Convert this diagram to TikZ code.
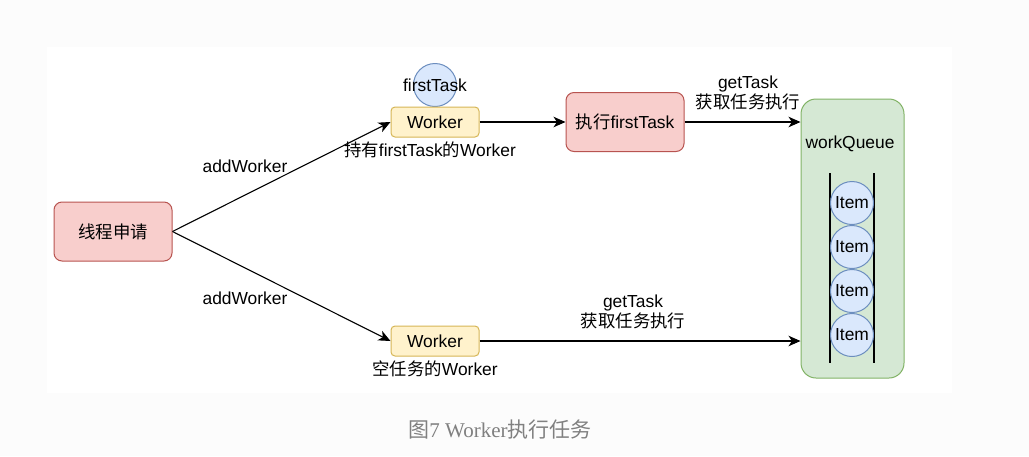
\documentclass[tikz,border=0pt]{standalone}
\usepackage{fontspec}
\setmainfont{Liberation Sans}
\newfontfamily\cjk{Noto Sans CJK SC}
\newfontfamily\capserif{Liberation Serif}
\usetikzlibrary{arrows.meta}
\definecolor{redfill}{HTML}{F8CECC}
\definecolor{redline}{HTML}{B85450}
\definecolor{yelfill}{HTML}{FFF2CC}
\definecolor{yelline}{HTML}{D6B656}
\definecolor{bluefill}{HTML}{DAE8FC}
\definecolor{blueline}{HTML}{6C8EBF}
\definecolor{grnfill}{HTML}{D5E8D4}
\definecolor{grnline}{HTML}{82B366}
\definecolor{outerbg}{HTML}{FCFCFC}
\definecolor{capgray}{HTML}{808080}
\tikzset{
  txt/.style={font=\fontsize{17.4}{20}\selectfont, inner sep=0pt, align=center},
  redbox/.style={txt, draw=redline, fill=redfill, line width=1pt, rounded corners=8pt, minimum width=118pt, minimum height=59pt},
  workerbox/.style={txt, draw=yelline, fill=yelfill, line width=1pt, rounded corners=4pt, minimum width=88pt, minimum height=30pt},
  bluecirc/.style={txt, circle, draw=blueline, fill=bluefill, line width=1pt, minimum size=43pt},
  queuebox/.style={draw=grnline, fill=grnfill, line width=1pt, rounded corners=15pt, minimum width=103pt, minimum height=279pt, inner sep=0pt},
  flow/.style={draw=black, line width=1.1pt, -{Stealth[length=12pt,width=10.5pt,inset=3.5pt]}},
  rail/.style={draw=black, line width=1.1pt}
}
\begin{document}
\begin{tikzpicture}[x=1pt,y=-1pt]
\useasboundingbox (0,0) rectangle (1029,456);
\fill[outerbg] (0,0) rectangle (1029,456);
\fill[white] (47,47) rectangle (952,393);

% nodes
\node[redbox] (req) at (113,231.5) {{\cjk 线程申请}};
\node[bluecirc] (ft) at (435,85) {};
\node[txt] (ftlabel) at (ft) {firstTask};
\node[workerbox] (w1) at (435,122) {Worker};
\node[txt] (w1label) at (430,150) {{\cjk 持有}firstTask{\cjk 的}Worker};
\node[workerbox] (w2) at (435,341) {Worker};
\node[txt] (w2label) at (435,369) {{\cjk 空任务的}Worker};
\node[redbox] (exec) at (625,122) {{\cjk 执行}firstTask};
\node[queuebox] (wq) at (852.5,238.5) {};
\node[txt] (wqlabel) at (850,144) {workQueue};

% rails
\coordinate (rl1) at (830,173);
\coordinate (rl2) at (830,363);
\coordinate (rr1) at (874,173);
\coordinate (rr2) at (874,363);
\draw[rail] (rl1) -- (rl2);
\draw[rail] (rr1) -- (rr2);

\node[bluecirc] (it1) at (852,203) {Item};
\node[bluecirc] (it2) at (852,247) {Item};
\node[bluecirc] (it3) at (852,291) {Item};
\node[bluecirc] (it4) at (852,335) {Item};

% connectors
\draw[flow] (req.east) -- (w1.west);
\draw[flow] (req.east) -- (w2.west);
\draw[flow] (w1.east) -- (exec.west);
\draw[flow] (exec.east) -- (wq.west |- exec.east);
\draw[flow] (w2.east) -- (wq.west |- w2.east);

% labels
\node[txt] (aw1) at (245,166) {addWorker};
\node[txt] (aw2) at (245,298) {addWorker};
\node[txt] (gt1) at (748,93) {getTask\\{\cjk 获取任务执行}};
\node[txt] (gt2) at (633,312) {getTask\\{\cjk 获取任务执行}};

% caption
\node[inner sep=0pt, text=capgray, font=\fontsize{21}{24}\selectfont] (cap) at (500,430) {{\cjk 图}{\capserif 7 Worker}{\cjk 执行任务}};
\end{tikzpicture}
\end{document}
